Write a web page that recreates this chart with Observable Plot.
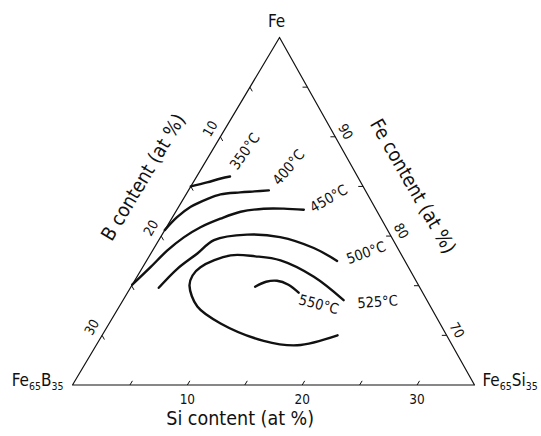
<!DOCTYPE html>
<html><head><meta charset="utf-8">
<script src="https://cdn.jsdelivr.net/npm/d3@7"></script>
<script src="https://cdn.jsdelivr.net/npm/@observablehq/plot@0.6"></script>
<style>
html,body{margin:0;padding:0;background:#fff;}
#chart{width:541px;height:436px;}
</style></head><body><div id="chart"></div>
<script>
// Ternary data, each point is [Si at%, B at%]; Fe = 100 - Si - B
const corners = [[0, 0], [0, 35], [35, 0]];            // Fe, Fe65B35, Fe65Si35
const cornerNames = ["Fe", "Fe65B35", "Fe65Si35"];
const minorTicks = [5, 10, 15, 20, 25, 30];
const siLabels = [10, 20, 30];
const bLabels = [10, 20, 30];
const feLabels = [90, 80, 70];
const temps = [350, 400, 450, 500, 525, 550];
const c350 = [[0, 15], [1.2, 13.4], [2.2, 12.0], [2.9, 11.1]];
const c400 = [[0, 19.4], [0.4, 17.7], [1.05, 16.0], [2.07, 14.2], [3.0, 12.8], [4.6, 11.0], [5.8, 9.7], [7.0, 8.4]];
const c450 = [[0, 24.9], [0.68, 22.45], [1.27, 20.2], [2.03, 18.1], [2.96, 16.15], [4.25, 14.0], [5.65, 11.9], [7.5, 9.75], [9.24, 8.0], [11.05, 6.3]];
const c500 = [[2.47, 22.74], [3.1, 20.2], [4.05, 17.7], [4.8, 15.6], [7.4, 12.45], [10.4, 9.7], [13.9, 7.3], [16.6, 5.9]];
const c525 = [[19.2, 7.25], [15.4, 8.7], [11.65, 10.8], [9.24, 12.8], [7.04, 14.9], [5.03, 18.1], [4.77, 19.2], [5.03, 19.96], [6.8, 20.3], [9.7, 19.1], [14.35, 16.2], [17.5, 13.5], [20.5, 9.5]];
const c550 = [[10.8, 14.3], [11.5, 13.1], [12.4, 12.1], [13.6, 11.3], [14.9, 10.8]];

const curves = [c350, c400, c450, c500, c525, c550];
const APEX = 0.515;
const FONT = "'DejaVu Sans Condensed','DejaVu Sans',sans-serif";
function pos(si, b) { const fe = 1 - (si + b) / 35; return {x: si / 35 + fe * APEX, y: fe}; }

const lineData = curves.flatMap((pts, i) => pts.map(([si, b], j) => ({temp: temps[i], j, ...pos(si, b)})));
const edge = [...corners, corners[0]].map(([si, b]) => pos(si, b));

const L = 0.42;
const ticks = [
  ...minorTicks.map(k => [pos(k, 35 - k), pos(k, 35 - k - L)]),
  ...minorTicks.map(k => [pos(0, k), pos(L, k)]),
  ...minorTicks.map(k => [pos(k, 0), pos(k - L, L)])
].map(([a, b]) => ({x1: a.x, y1: a.y, x2: b.x, y2: b.y}));

// label layout (pixel offsets from curve end)
const labelLayout = {
  350: {end: "last", dx: 15, dy: -25, rotate: -55},
  400: {end: "last", dx: 20, dy: -23, rotate: -50},
  450: {end: "last", dx: 25, dy: -11, rotate: -30},
  500: {end: "last", dx: 29, dy: -8, rotate: -20},
  525: {end: "first", dx: 34, dy: 2, rotate: -4},
  550: {end: "last", dx: 20, dy: 12, rotate: 15}
};
const tempMarks = temps.map((t, i) => {
  const lay = labelLayout[t];
  const pts = curves[i];
  const p = lay.end === "first" ? pts[0] : pts[pts.length - 1];
  const q = pos(p[0], p[1]);
  return Plot.text([{...q, label: `${t}°C`}], {x: "x", y: "y", text: "label", dx: lay.dx, dy: lay.dy, rotate: lay.rotate, fontSize: 14.5, fontFamily: FONT, fill: "#111"});
});

const cornerLayout = [
  {dx: -3, dy: -16, anchor: "middle"},
  {dx: -9, dy: -4, anchor: "end"},
  {dx: 8, dy: -4, anchor: "start"}
];
const cornerMarks = corners.map(([si, b], i) => Plot.text([{...pos(si, b), label: cornerNames[i]}], {
  x: "x", y: "y", text: "label", dx: cornerLayout[i].dx, dy: cornerLayout[i].dy, textAnchor: cornerLayout[i].anchor,
  fontSize: 17, fontFamily: FONT, fill: "#111"
}));

const chart = Plot.plot({
  width: 541, height: 436, margin: 0,
  style: {fontFamily: FONT, background: "#fff"},
  x: {domain: [0, 1], range: [72, 474], axis: null},
  y: {domain: [0, 1], range: [384.5, 37], axis: null},
  marks: [
    Plot.line(edge, {x: "x", y: "y", stroke: "#111", strokeWidth: 1.2}),
    Plot.link(ticks, {x1: "x1", y1: "y1", x2: "x2", y2: "y2", stroke: "#111", strokeWidth: 1}),
    Plot.line(lineData, {x: "x", y: "y", z: "temp", curve: "catmull-rom", stroke: "#111", strokeWidth: 2.4, strokeLinecap: "round"}),
    Plot.text(siLabels, {x: d => pos(d, 35 - d).x, y: d => pos(d, 35 - d).y, text: d => String(d), dy: 15, fontSize: 13.5, fontFamily: FONT, fill: "#111"}),
    Plot.text(bLabels, {x: d => pos(0, d).x, y: d => pos(0, d).y, text: d => String(d), dx: -10, dy: -8, rotate: -60, fontSize: 13.5, fontFamily: FONT, fill: "#111"}),
    Plot.text(feLabels, {x: d => pos(100 - d, 0).x, y: d => pos(100 - d, 0).y, text: d => String(d), dx: 10, dy: -5, rotate: 60, fontSize: 13.5, fontFamily: FONT, fill: "#111"}),
    Plot.text([{...pos(0, 16.4), label: "B content (at %)"}], {x: "x", y: "y", text: "label", dx: -39, dy: -23, rotate: -59, fontSize: 19.5, fontFamily: FONT, fill: "#111"}),
    Plot.text([{...pos(17.1, 0), label: "Fe content (at %)"}], {x: "x", y: "y", text: "label", dx: 38, dy: -21, rotate: 60, fontSize: 19.5, fontFamily: FONT, fill: "#111"}),
    Plot.text([{...pos(14.6, 20.4), label: "Si content (at %)"}], {x: "x", y: "y", text: "label", dy: 34, fontSize: 19.5, fontFamily: FONT, fill: "#111"}),
    ...tempMarks,
    ...cornerMarks
  ]
});
document.getElementById("chart").appendChild(chart);

// subscripts for the corner compositions
chart.querySelectorAll("text").forEach(t => {
  const s = t.textContent;
  const m = s.match(/^Fe(\d+)([A-Z][a-z]?)(\d+)$/);
  if (!m) return;
  t.textContent = "";
  const parts = [["Fe", 0, null], [m[1], 4, 10.5], [m[2], -4, null], [m[3], 4, 10.5]];
  for (const [txt, dy, fs] of parts) {
    const ts = document.createElementNS("http://www.w3.org/2000/svg", "tspan");
    ts.textContent = txt;
    if (dy) ts.setAttribute("dy", dy);
    if (fs) ts.setAttribute("font-size", fs);
    t.appendChild(ts);
  }
});
</script></body></html>
